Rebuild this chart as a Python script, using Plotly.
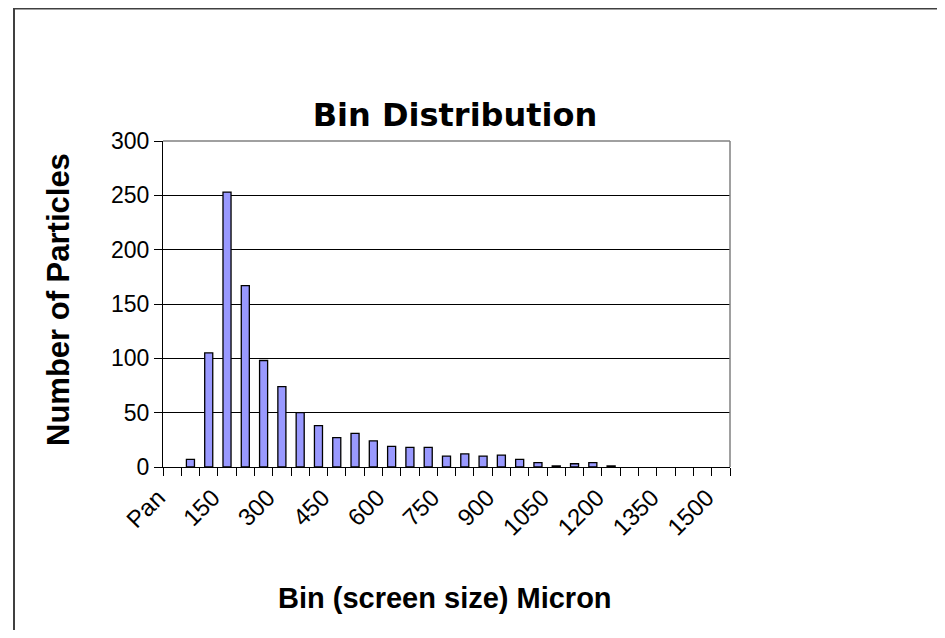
import plotly.graph_objects as go

categories = ["Pan", "50", "100", "150", "200", "250", "300", "350", "400", "450",
              "500", "550", "600", "650", "700", "750", "800", "850", "900", "950",
              "1000", "1050", "1100", "1150", "1200", "1250", "1300", "1350", "1400",
              "1450", "1500"]
particles = [0, 7, 105, 253, 167, 98, 74, 50, 38, 27,
             31, 24, 19, 18, 18, 10, 12, 10, 11, 7,
             4, 1, 3, 4, 1, 0, 0, 0, 0, 0, 0]
tick_labels = [c if i % 3 == 0 else "" for i, c in enumerate(categories)]
y_ticks = [0, 50, 100, 150, 200, 250, 300]

# page body has an 8px margin; work in figure coordinates (page - 8)
OFF = 8
W, H = 945 - 2 * OFF, 638 - 2 * OFF
L, R, T, B = 163 - OFF, 730 - OFF, 141 - OFF, 467 - OFF
pw, ph = R - L, B - T


def px(x):  # page x -> paper
    return (x - OFF - L) / pw


def py(y):  # page y -> paper
    return (B - (y - OFF)) / ph


FONT = "Liberation Sans, Arial, sans-serif"
TFONT = "DejaVu Sans, sans-serif"

# empty bins draw no outline (as in the original)
outline_w = [1.3 if v > 0 else 0 for v in particles]

fig = go.Figure(go.Bar(
    x=categories, y=particles,
    marker=dict(color="#9999FF", line=dict(color="black", width=outline_w)),
))

fig.update_layout(
    width=W, height=H,
    margin=dict(l=L, r=W - R, t=T, b=H - B, pad=0),
    paper_bgcolor="white", plot_bgcolor="white",
    bargap=0.56,
    showlegend=False,
    font=dict(family=FONT, color="black"),
    title=dict(text="<b>Bin Distribution</b>", font=dict(size=32, family=TFONT, color="black"),
               x=(455 - OFF) / W, xanchor="center", xref="container",
               y=1 - (115 - OFF) / H, yanchor="middle", yref="container"),
    xaxis=dict(
        type="category",
        tickmode="array", tickvals=categories, ticktext=tick_labels,
        tickson="boundaries", ticks="outside", ticklen=8, tickcolor="black", tickwidth=1,
        tickangle=-45, tickfont=dict(size=24, family=FONT, color="black"),
        ticklabelshift=-14, ticklabelstandoff=6,
        showline=True, linecolor="black", linewidth=1,
        showgrid=False, zeroline=False,
    ),
    yaxis=dict(
        range=[0, 300], tickmode="array", tickvals=y_ticks,
        ticks="outside", ticklen=8, tickcolor="black", tickwidth=1,
        tickfont=dict(size=23, family=FONT, color="black"),
        showline=True, linecolor="black", linewidth=1,
        showgrid=True, gridcolor="black", gridwidth=1, zeroline=False,
    ),
    annotations=[
        dict(text="<b>Number of Particles</b>", xref="paper", yref="paper",
             x=px(58), y=py(300), textangle=-90, showarrow=False,
             xanchor="center", yanchor="middle",
             font=dict(size=31, family=FONT, color="black")),
        dict(text="<b>Bin (screen size) Micron</b>", xref="paper", yref="paper",
             x=px(445), y=py(598), showarrow=False,
             xanchor="center", yanchor="middle",
             font=dict(size=29, family=FONT, color="black")),
    ],
    shapes=[
        dict(type="line", xref="paper", yref="paper", x0=0, x1=1, y0=1, y1=1,
             line=dict(color="#808080", width=1.5), layer="above"),
        dict(type="line", xref="paper", yref="paper", x0=1, x1=1, y0=0, y1=1,
             line=dict(color="#808080", width=1.5), layer="above"),
        dict(type="line", xref="paper", yref="paper",
             x0=px(13.5), x1=px(1000), y0=py(8.5), y1=py(8.5),
             line=dict(color="#404040", width=2), layer="above"),
        dict(type="line", xref="paper", yref="paper",
             x0=px(14), x1=px(14), y0=py(8), y1=py(700),
             line=dict(color="#404040", width=2), layer="above"),
    ],
)

fig.write_html("out.html")
